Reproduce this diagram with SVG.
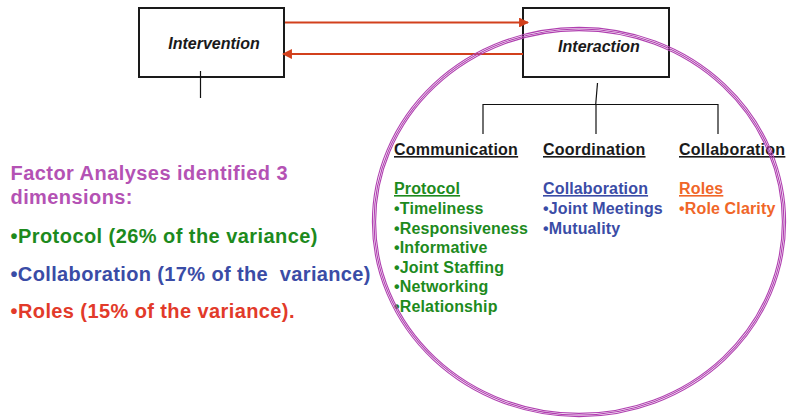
<svg xmlns="http://www.w3.org/2000/svg" width="787" height="419" viewBox="0 0 787 419">
  <style>
    .box { fill: none; stroke: #1a1a1a; stroke-width: 2; }
    .boxlabel { font-family: "Liberation Sans", Arial, sans-serif; font-size: 16px; font-weight: bold; font-style: italic; fill: #1a1a1a; text-anchor: middle; }
    .tree { fill: none; stroke: #111; stroke-width: 1.2; }
    .arrow { fill: none; stroke: #d2401c; stroke-width: 2.2; }
    .hdr { font-family: "Liberation Sans", Arial, sans-serif; font-size: 16px; font-weight: bold; fill: #1a1a1a; text-decoration: underline; letter-spacing: 0.25px; }
    .item { font-family: "Liberation Sans", Arial, sans-serif; font-size: 16px; font-weight: bold; letter-spacing: 0.15px; }
    .green { fill: #1d8a1d; }
    .blue { fill: #3a4ca6; }
    .orange { fill: #f06628; }
    .big { font-family: "Liberation Sans", Arial, sans-serif; font-size: 20px; font-weight: bold; }
    .purple { fill: #b452b4; }
    .red { fill: #e23a2a; }
    .ring { fill: none; stroke: #b040b0; stroke-width: 1.1; }
  </style>
  <defs>
    <marker id="head" viewBox="0 0 10 10" refX="9" refY="5" markerWidth="4.5" markerHeight="4.5" orient="auto" markerUnits="strokeWidth">
      <path d="M0,0 L10,5 L0,10 z" fill="#d2401c"/>
    </marker>
  </defs>

  <!-- boxes -->
  <g id="intervention">
    <rect class="box" x="139" y="8" width="145" height="69"/>
    <text class="boxlabel" x="214" y="49">Intervention</text>
  </g>
  <g id="interaction">
    <rect class="box" x="523" y="8" width="146" height="69"/>
    <text class="boxlabel" x="599" y="52">Interaction</text>
  </g>

  <!-- connectors -->
  <g id="connectors">
    <line class="arrow" x1="285" y1="22.5" x2="528" y2="22.5" marker-end="url(#head)"/>
    <line class="arrow" x1="523" y1="54" x2="283" y2="54" marker-end="url(#head)"/>
    <line class="tree" x1="200.5" y1="71" x2="200.5" y2="98"/>
    <line class="tree" x1="597.5" y1="83" x2="595.7" y2="104.5"/>
    <polyline class="tree" points="483,134 483,104.5 718,104.5 718,134"/>
    <line class="tree" x1="596" y1="104.5" x2="596" y2="134"/>
  </g>

  <!-- dimension headers and their items -->
  <g id="communication">
    <text class="hdr" x="394" y="155">Communication</text>
    <text class="item green" x="394" y="194" text-decoration="underline">Protocol</text>
    <text class="item green" x="394" y="214">•Timeliness</text>
    <text class="item green" x="394" y="233.5">•Responsiveness</text>
    <text class="item green" x="394" y="253">•Informative</text>
    <text class="item green" x="394" y="272.5">•Joint Staffing</text>
    <text class="item green" x="394" y="292">•Networking</text>
    <text class="item green" x="394" y="311.5">•Relationship</text>
  </g>
  <g id="coordination">
    <text class="hdr" x="543" y="155">Coordination</text>
    <text class="item blue" x="543" y="194" text-decoration="underline">Collaboration</text>
    <text class="item blue" x="543" y="214">•Joint Meetings</text>
    <text class="item blue" x="543" y="233.5">•Mutuality</text>
  </g>
  <g id="collaboration">
    <text class="hdr" x="679" y="155">Collaboration</text>
    <text class="item orange" x="679" y="194" text-decoration="underline">Roles</text>
    <text class="item orange" x="679" y="214">•Role Clarity</text>
  </g>

  <!-- summary text -->
  <g id="summary">
    <text class="big purple" x="10.5" y="180" textLength="277" lengthAdjust="spacing">Factor Analyses identified 3</text>
    <text class="big purple" x="10.5" y="204" textLength="122" lengthAdjust="spacing">dimensions:</text>
    <text class="big green" x="10.5" y="243" textLength="307" lengthAdjust="spacing">•Protocol (26% of the variance)</text>
    <text class="big blue" x="10.5" y="280.5" textLength="360" lengthAdjust="spacing" xml:space="preserve">•Collaboration (17% of the  variance)</text>
    <text class="big red" x="10.5" y="318" textLength="284" lengthAdjust="spacing">•Roles (15% of the variance).</text>
  </g>

  <!-- triple-line ring -->
  <g id="ring">
    <ellipse class="ring" cx="579" cy="222" rx="206.6" ry="194.6"/>
    <ellipse class="ring" cx="579" cy="222" rx="205" ry="193"/>
    <ellipse class="ring" cx="579" cy="222" rx="203.4" ry="191.4"/>
  </g>
</svg>
